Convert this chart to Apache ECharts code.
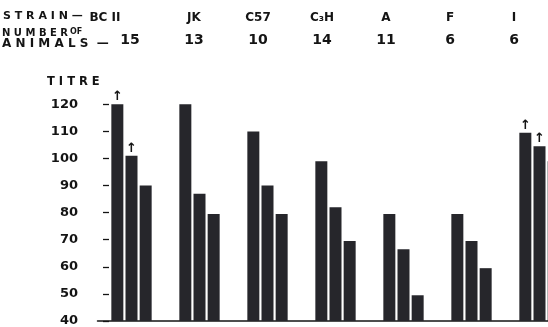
<!DOCTYPE html>
<html>
<head>
<meta charset="utf-8">
<script src="https://cdn.jsdelivr.net/npm/echarts@6/dist/echarts.min.js"></script>
<style>html,body{margin:0;padding:0;background:#fff}#c{width:548px;height:327px}</style>
</head>
<body>
<div id="c"></div>
<script>
const strains = ['BC II', 'JK', 'C57', 'C₃H', 'A', 'F', 'I'];
const animals = [15, 13, 10, 14, 11, 6, 6];
const titreA = [120, 120, 110, 99, 79.5, 79.5, 109.5];
const titreB = [101, 87, 90, 82, 66.5, 69.5, 104.5];
const titreC = [90, 79.5, 79.5, 69.5, 49.5, 59.5, 99];
const arrowA = [1, 0, 0, 0, 0, 0, 1];
const arrowB = [1, 0, 0, 0, 0, 0, 1];
const yMin = 40, yMax = 120, yStep = 10;

const ink = '#141414';
const barColor = '#26262b';
const font = 'DejaVu Sans';

function withArrows(vals, flags) {
  return vals.map((v, i) => flags && flags[i]
    ? { value: v, label: { show: true } }
    : { value: v });
}

const arrowLabel = {
  show: false, position: 'top', distance: 1, formatter: '↑',
  color: ink, fontSize: 13, fontWeight: 'bold', fontFamily: font
};

const chart = echarts.init(document.getElementById('c'), null, { renderer: 'canvas' });
chart.setOption({
  animation: false,
  backgroundColor: '#ffffff',
  grid: [
    { left: 97.5, right: -25.5, top: 104.3, bottom: 6, outerBoundsMode: 'none', containLabel: false },
    { left: 98, right: 2, top: 47, height: 10, outerBoundsMode: 'none' },
    { left: 103, width: 6, top: 104.3, bottom: 6, outerBoundsMode: 'none' }
  ],
  xAxis: [
    { type: 'category', gridIndex: 0, data: strains,
      axisLine: { show: true, lineStyle: { color: ink, width: 1.5 } },
      axisTick: { show: false }, axisLabel: { show: false } },
    { type: 'category', gridIndex: 1, position: 'top', data: strains, offset: 23,
      axisLine: { show: false }, axisTick: { show: false },
      axisLabel: { show: true, interval: 0, margin: 0, color: ink, fontSize: 12,
        fontWeight: 'bold', fontFamily: font,
        formatter: (v, i) => i === 0 ? '{first|' + v + '}' : v,
        rich: { first: { padding: [0, 50, 0, 0], color: ink, fontSize: 12,
          fontWeight: 'bold', fontFamily: font } } } },
    { type: 'category', gridIndex: 1, position: 'top', data: animals.map(String), offset: 0,
      axisLine: { show: false }, axisTick: { show: false },
      axisLabel: { show: true, interval: 0, margin: 0, color: ink, fontSize: 14,
        fontWeight: 'bold', fontFamily: font } },
    { type: 'value', gridIndex: 2, show: false, min: 0, max: 1 }
  ],
  yAxis: [
    { type: 'value', gridIndex: 0, min: yMin, max: yMax, interval: yStep, offset: -5.5,
      axisLine: { show: false },
      axisTick: { show: false },
      splitLine: { show: false },
      axisLabel: { margin: 25, color: ink, fontSize: 13, fontWeight: 'bold', fontFamily: font } },
    { type: 'value', gridIndex: 1, show: false },
    { type: 'value', gridIndex: 2, min: yMin, max: yMax, interval: yStep,
      axisLine: { show: false }, axisTick: { show: false }, axisLabel: { show: false },
      splitLine: { show: true, lineStyle: { color: ink, width: 1.3 } } }
  ],
  graphic: [
    { type: 'text', left: 3, top: 11, style: { text: 'S T R A I N —', fill: ink,
      font: 'bold 11px "DejaVu Sans"' } },
    { type: 'text', left: 2, top: 28, style: { text: 'N U M B E R{o|OF}', fill: ink,
      font: 'bold 10px "DejaVu Sans"',
      rich: { o: { fontSize: 8, fontWeight: 'bold', fontFamily: font, fill: ink, padding: [0, 0, 2, 2] } } } },
    { type: 'text', left: 2, top: 38, style: { text: 'A N I M A L S  —', fill: ink,
      font: 'bold 12px "DejaVu Sans"' } },
    { type: 'text', left: 47, top: 76, style: { text: 'T I T R E', fill: ink,
      font: 'bold 11.5px "DejaVu Sans"' } }
  ],
  series: [
    { type: 'bar', name: 'A', xAxisIndex: 0, yAxisIndex: 0, data: withArrows(titreA, arrowA),
      barWidth: 12, barGap: '18%', itemStyle: { color: barColor }, label: arrowLabel },
    { type: 'bar', name: 'B', xAxisIndex: 0, yAxisIndex: 0, data: withArrows(titreB, arrowB),
      barWidth: 12, barGap: '18%', itemStyle: { color: barColor }, label: arrowLabel },
    { type: 'bar', name: 'C', xAxisIndex: 0, yAxisIndex: 0, data: withArrows(titreC, null),
      barWidth: 12, barGap: '18%', itemStyle: { color: barColor }, label: arrowLabel }
  ]
});
</script>
</body>
</html>
